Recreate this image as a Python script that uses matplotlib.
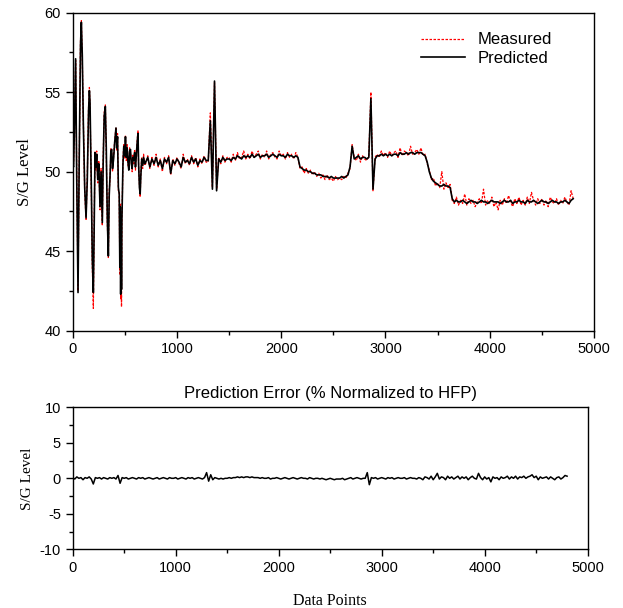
import numpy as np
import matplotlib
matplotlib.use("Agg")
import matplotlib.pyplot as plt
from matplotlib.ticker import MultipleLocator

# ---------------- data ----------------
# early oscillation section (irregular sampling to keep the extremes)
osc_x = [0, 8, 16, 28, 38, 51, 62, 75, 83, 92, 102, 115, 128, 140, 152, 160, 166, 172,
         180, 188, 198, 206, 214, 222, 230, 240, 250, 262, 272, 284, 292, 302, 313, 322,
         332, 342, 350, 358, 366, 374, 382, 392, 402, 415, 422, 430, 438, 446, 452, 456,
         460, 464, 468, 472, 476, 482, 490, 498, 506, 514, 522, 530, 538, 546, 554, 562,
         570, 578, 586, 594, 602, 610, 618, 626, 632, 640, 647, 654, 662, 671, 680, 690]
osc_pred = [50.5, 50.3, 52.5, 57.1, 50.0, 42.4, 50.5, 58.0, 59.4, 57.3, 53.0, 49.0, 47.1, 49.5,
            53.8, 55.1, 54.4, 52.0, 48.5, 44.5, 42.4, 46.5, 51.2, 50.3, 51.1, 49.5, 50.5, 47.8,
            50.0, 46.8, 50.5, 53.5, 54.1, 51.5, 47.0, 44.7, 48.5, 49.7, 51.3, 51.4, 50.2, 50.8,
            51.8, 52.75, 51.5, 52.2, 49.0, 48.6, 44.0, 47.8, 42.3, 46.5, 42.6, 47.0, 48.5, 50.5,
            51.6, 51.0, 52.2, 50.9, 51.5, 50.6, 50.1, 51.3, 51.4, 50.5, 50.2, 50.9, 50.7, 51.2,
            50.3, 51.0, 51.8, 52.4, 50.5, 49.0, 48.6, 49.8, 50.8, 50.4, 50.9, 50.5]
osc_meas = [50.4, 50.5, 52.8, 57.0, 50.3, 42.5, 50.2, 58.3, 59.5, 57.0, 53.2, 48.8, 47.0, 49.8,
            54.0, 55.3, 54.2, 51.8, 48.2, 44.0, 41.4, 46.8, 51.3, 50.1, 51.3, 49.3, 50.7, 47.6,
            50.2, 46.6, 50.8, 53.7, 54.2, 51.2, 46.8, 44.6, 48.8, 49.5, 51.5, 51.2, 50.0, 51.0,
            51.9, 52.8, 51.3, 52.4, 48.8, 48.8, 43.5, 48.0, 42.0, 46.8, 41.5, 47.3, 48.3, 50.8,
            51.7, 50.8, 52.3, 50.7, 51.7, 50.4, 50.3, 51.5, 51.2, 50.7, 50.0, 51.1, 50.5, 51.4,
            50.1, 51.2, 51.9, 52.6, 50.3, 49.2, 48.4, 50.0, 50.9, 50.2, 51.1, 50.4]

# remaining section, one value every 20 data points from 700 to 4800
rest_start, rest_stop, rest_step = 700, 4800, 20
rest_pred = [
    50.6, 50.9, 50.3, 50.8, 50.5, 50.9, 50.4, 50.7, 50.2, 50.8,
    50.6, 50.9, 49.9, 50.7, 50.5, 50.8, 50.6, 50.3, 50.9, 50.6,
    50.7, 50.5, 50.9, 50.6, 50.8, 50.4, 50.7, 50.6, 50.9, 50.7,
    50.7, 53.2, 48.9, 55.7, 48.8, 50.8, 50.6, 50.9, 50.7, 50.8,
    50.8, 50.7, 50.9, 50.8, 51.0, 50.9, 50.8, 51.0, 50.9, 51.0,
    50.9, 51.1, 50.9, 51.0, 51.1, 50.9, 51.0, 51.0, 51.1, 50.9,
    51.0, 51.1, 51.0, 50.9, 51.1, 51.0, 51.0, 50.9, 51.1, 51.0,
    51.0, 50.9, 51.0, 50.9, 50.3, 50.2, 50.1, 50.1, 50.0, 50.0,
    49.9, 49.9, 49.8, 49.8, 49.8, 49.7, 49.7, 49.7, 49.6, 49.7,
    49.6, 49.6, 49.6, 49.6, 49.7, 49.6, 49.7, 49.8, 50.3, 51.6,
    50.8, 50.9, 51.0, 50.8, 50.9, 50.9, 50.8, 50.9, 54.6, 48.9,
    50.8, 51.0, 51.0, 51.1, 51.0, 51.1, 51.0, 51.1, 51.0, 51.1,
    51.1, 51.0, 51.2, 51.1, 51.1, 51.2, 51.1, 51.2, 51.2, 51.1,
    51.2, 51.2, 51.2, 51.1, 51.0, 50.6, 50.0, 49.6, 49.4, 49.3,
    49.2, 49.1, 49.1, 49.2, 49.1, 49.1, 49.0, 48.3, 48.1, 48.2,
    48.1, 48.1, 48.2, 48.1, 48.0, 48.1, 48.2, 48.1, 48.1, 48.0,
    48.1, 48.2, 48.1, 48.1, 48.0, 48.1, 48.2, 48.1, 48.1, 48.1,
    48.0, 48.1, 48.2, 48.1, 48.1, 48.2, 48.0, 48.1, 48.1, 48.2,
    48.1, 48.1, 48.0, 48.2, 48.1, 48.1, 48.2, 48.1, 48.0, 48.1,
    48.2, 48.1, 48.1, 48.0, 48.1, 48.2, 48.1, 48.1, 48.0, 48.1,
    48.1, 48.2, 48.1, 48.0, 48.2, 48.3]
rest_meas = [
    50.5, 51.0, 50.2, 50.9, 50.4, 51.1, 50.3, 50.8, 50.0, 50.9,
    50.5, 51.0, 49.8, 50.8, 50.4, 50.9, 50.5, 50.2, 51.1, 50.5,
    50.8, 50.4, 51.0, 50.5, 50.9, 50.3, 50.8, 50.5, 51.0, 50.6,
    50.6, 53.7, 49.0, 55.6, 48.9, 50.9, 50.5, 51.0, 50.6, 50.9,
    50.9, 50.6, 51.1, 50.7, 51.2, 50.8, 50.9, 51.3, 50.8, 51.1,
    50.8, 51.3, 50.9, 51.1, 51.3, 50.8, 51.1, 50.9, 51.3, 50.8,
    51.1, 51.2, 50.9, 50.8, 51.3, 51.0, 51.1, 50.8, 51.2, 50.9,
    51.1, 50.8, 51.2, 50.9, 50.2, 50.3, 49.9, 50.2, 49.9, 50.1,
    49.8, 50.0, 49.7, 49.9, 49.6, 49.8, 49.5, 49.8, 49.5, 49.6,
    49.4, 49.7, 49.5, 49.6, 49.5, 49.7, 49.6, 49.9, 50.2, 51.7,
    50.9, 50.7, 51.1, 50.6, 51.0, 50.8, 50.7, 51.0, 55.0, 48.8,
    50.9, 51.1, 50.9, 51.3, 51.0, 51.2, 50.9, 51.3, 51.0, 51.2,
    51.3, 50.9, 51.5, 51.0, 51.3, 51.2, 51.0, 51.6, 51.1, 51.2,
    51.4, 51.1, 51.5, 51.0, 51.1, 50.5, 50.1, 49.5, 49.6, 49.1,
    49.3, 49.0, 50.0, 48.9, 49.3, 49.0, 49.2, 48.2, 48.0, 48.4,
    47.9, 48.2, 48.0, 48.6, 47.9, 48.3, 48.0, 48.2, 47.8, 48.1,
    48.3, 48.0, 48.9, 47.9, 48.2, 48.0, 48.4, 47.8, 48.1, 47.6,
    48.2, 47.9, 48.3, 48.0, 48.5, 48.1, 47.8, 48.3, 48.0, 48.4,
    47.9, 48.2, 47.9, 48.4, 48.0, 48.7, 48.2, 47.9, 48.3, 48.0,
    48.3, 47.9, 48.2, 47.8, 48.4, 48.1, 48.0, 48.3, 47.9, 48.2,
    48.0, 48.4, 48.1, 47.9, 48.8, 48.3]

# prediction error, one value every 20 data points from 0 to 4800
err_start, err_stop, err_step = 0, 4800, 20
err_vals = [
    0.1, -0.1, 0.2, 0.0, 0.1, -0.2, 0.1, 0.0, 0.2, -0.1,
    -0.8, 0.1, 0.0, 0.1, -0.1, 0.1, 0.0, -0.1, 0.1, 0.0,
    0.1, -0.1, 0.4, -0.7, 0.1, 0.0, 0.1, -0.1, 0.0, 0.1,
    0.0, -0.1, 0.1, 0.0, 0.1, -0.1, 0.0, 0.1, 0.0, -0.1,
    0.0, 0.1, -0.1, 0.0, 0.1, 0.0, -0.1, 0.1, 0.0, 0.0,
    0.1, -0.1, 0.0, 0.1, 0.0, -0.1, 0.1, 0.0, 0.1, -0.1,
    0.0, 0.1, 0.0, -0.1, 0.1, 0.8, -0.4, 0.5, -0.2, 0.1,
    0.0, -0.1, 0.0, -0.1, 0.0, 0.0, 0.1, 0.0, 0.1, 0.1,
    0.2, 0.1, 0.2, 0.1, 0.2, 0.2, 0.1, 0.2, 0.1, 0.1,
    0.1, 0.0, 0.1, 0.0, 0.0, 0.1, -0.1, 0.0, 0.0, 0.1,
    0.0, -0.1, 0.0, 0.1, 0.0, -0.1, 0.0, 0.1, 0.0, -0.1,
    0.0, 0.1, 0.0, 0.0, -0.1, 0.1, 0.0, -0.1, 0.0, 0.0,
    -0.1, 0.0, -0.1, -0.2, -0.1, 0.0, -0.1, -0.2, -0.1, -0.1,
    -0.1, 0.0, -0.2, -0.1, 0.0, 0.1, -0.1, 0.0, 0.1, 0.0,
    -0.1, 0.0, 0.0, 0.8, -0.9, 0.1, 0.0, 0.1, -0.1, 0.0,
    0.1, 0.0, -0.1, 0.1, 0.0, 0.1, -0.1, 0.0, 0.1, 0.0,
    0.0, 0.1, -0.1, 0.0, 0.1, 0.0, 0.0, -0.1, 0.1, 0.0,
    -0.2, 0.2, 0.1, -0.1, 0.3, -0.2, 0.2, 0.7, -0.1, 0.2,
    0.1, -0.2, 0.3, 0.0, 0.2, -0.1, 0.1, 0.3, -0.1, 0.2,
    0.0, 0.2, -0.2, 0.1, 0.3, 0.0, -0.1, 0.7, 0.1, -0.2,
    0.2, -0.1, 0.1, -0.5, 0.2, 0.0, 0.1, -0.2, 0.2, 0.0,
    0.1, 0.3, -0.1, 0.2, 0.0, 0.3, -0.1, 0.2, 0.1, 0.3,
    0.0, 0.2, 0.3, 0.5, 0.1, 0.3, -0.2, 0.2, 0.0, 0.1,
    0.2, -0.1, 0.2, 0.0, -0.2, 0.1, 0.2, -0.1, 0.1, 0.4,
    0.3]

series_labels = ["Measured", "Predicted"]
top_ylabel = "S/G Level"
bottom_title = "Prediction Error (% Normalized to HFP)"
bottom_xlabel = "Data Points"

# ---------------- assemble ----------------
rest_x = np.arange(rest_start, rest_stop + 1, rest_step)
x_all = np.concatenate([osc_x, rest_x])
pred_all = np.concatenate([osc_pred, rest_pred])
meas_all = np.concatenate([osc_meas, rest_meas])
err_x = np.arange(err_start, err_stop + 1, err_step)

sans = ["Liberation Sans", "DejaVu Sans"]
serif = ["Liberation Serif", "DejaVu Serif"]
plt.rcParams["font.family"] = sans
plt.rcParams["axes.unicode_minus"] = False

fig = plt.figure(figsize=(6.23, 6.08), dpi=100)
ax1 = fig.add_axes([0.1167, 0.4561, 0.8368, 0.5230])
ax2 = fig.add_axes([0.1167, 0.0965, 0.8266, 0.2336])

ax1.plot(x_all, meas_all, color="red", lw=0.9, ls=(0, (2, 1.2)), label=series_labels[0])
ax1.plot(x_all, pred_all, color="black", lw=1.2, label=series_labels[1])
ax1.set_xlim(0, 5000)
ax1.set_ylim(40, 60)
ax1.xaxis.set_major_locator(MultipleLocator(1000))
ax1.xaxis.set_minor_locator(MultipleLocator(500))
ax1.yaxis.set_major_locator(MultipleLocator(5))
ax1.yaxis.set_minor_locator(MultipleLocator(2.5))
ax1.set_ylabel(top_ylabel, family=serif, fontsize=12, labelpad=8)
leg = ax1.legend(loc="upper left", bbox_to_anchor=(0.64, 0.985), frameon=False,
                 fontsize=12, handlelength=2.6, handletextpad=0.8, labelspacing=0.2)

ax2.plot(err_x, err_vals, color="black", lw=1.1)
ax2.set_xlim(0, 5000)
ax2.set_ylim(-10, 10)
ax2.xaxis.set_major_locator(MultipleLocator(1000))
ax2.xaxis.set_minor_locator(MultipleLocator(500))
ax2.yaxis.set_major_locator(MultipleLocator(5))
ax2.yaxis.set_minor_locator(MultipleLocator(2.5))
ax2.set_title(bottom_title, fontsize=12, pad=7)
ax2.set_ylabel(top_ylabel, family=serif, fontsize=11, labelpad=4)
ax2.set_xlabel(bottom_xlabel, family=serif, fontsize=11.5, labelpad=13)

for ax in (ax1, ax2):
    for s in ax.spines.values():
        s.set_linewidth(1.0)
    ax.tick_params(which="both", direction="out", top=False, right=False,
                   labelsize=10.5, width=1.0)
    ax.tick_params(which="major", length=5)
    ax.tick_params(which="minor", length=3)

fig.savefig("out.png", dpi=100)
